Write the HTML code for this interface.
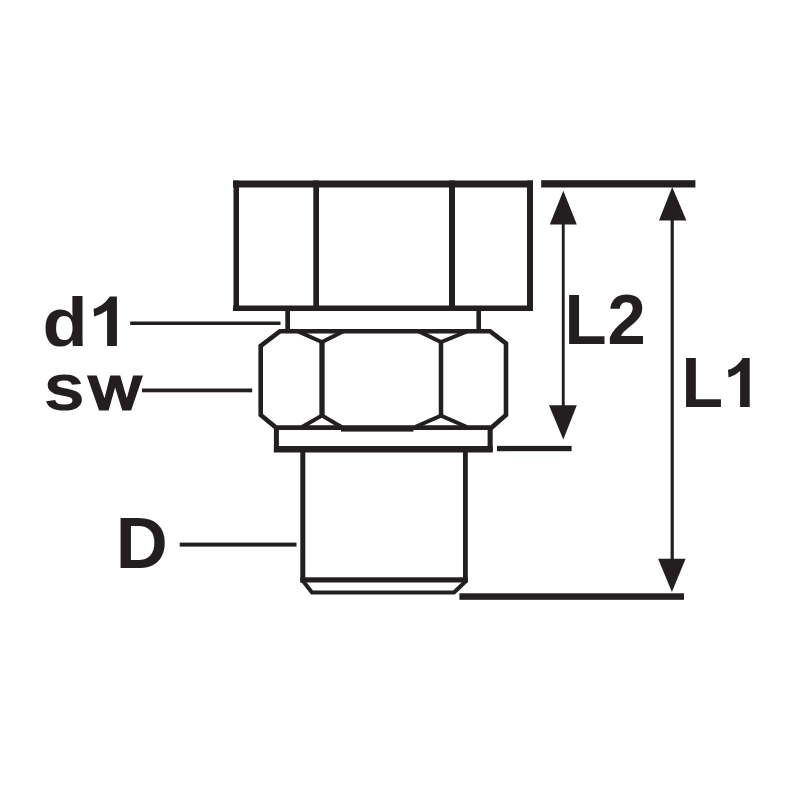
<!DOCTYPE html>
<html>
<head>
<meta charset="utf-8">
<style>
html,body{margin:0;padding:0;background:#fff;}
body{width:800px;height:800px;overflow:hidden;}
svg{display:block;}
text{font-family:"Liberation Sans", sans-serif;font-weight:bold;fill:#231f20;}
</style>
</head>
<body>
<svg width="800" height="800" viewBox="0 0 800 800">
<rect x="0" y="0" width="800" height="800" fill="#fff"/>
<g fill="#231f20">
  <!-- head -->
  <rect x="233" y="180.5" width="300" height="7"/>
  <rect x="233" y="305.5" width="300" height="5.5"/>
  <rect x="233.5" y="180.5" width="5.5" height="130.5"/>
  <rect x="527" y="180.5" width="6" height="130.5"/>
  <rect x="313.3" y="180.5" width="5.7" height="130.5"/>
  <rect x="449" y="180.5" width="6" height="130.5"/>
  <!-- neck -->
  <rect x="285.3" y="311" width="4.7" height="20"/>
  <rect x="476.4" y="311" width="4.6" height="20"/>
  <!-- washer -->
  <rect x="273.9" y="427" width="5" height="25"/>
  <rect x="487.6" y="427" width="5.1" height="25"/>
  <rect x="273.9" y="446" width="218.8" height="6.5"/>
  <!-- shank -->
  <rect x="300.3" y="452" width="5" height="130.5"/>
  <rect x="463" y="452" width="4.8" height="130.5"/>
  <rect x="300.3" y="577.3" width="167.5" height="5.2"/>
  <!-- leaders -->
  <rect x="130.2" y="321.5" width="150.3" height="3.5"/>
  <rect x="142" y="388.5" width="110.2" height="3.8"/>
  <rect x="179.7" y="542.6" width="116.8" height="4"/>
  <!-- dimension lines -->
  <rect x="541.2" y="180.2" width="154.2" height="7.3"/>
  <rect x="497" y="445.9" width="74.6" height="5.3"/>
  <rect x="459.4" y="593.3" width="224.6" height="6.5"/>
  <!-- arrows -->
  <polygon points="563.3,190.7 549.8,224.5 576.8,224.5"/>
  <polygon points="563.3,439.6 549,405.2 576.8,405.2"/>
  <polygon points="672.2,186.9 659,220.5 686.4,220.5"/>
  <polygon points="671.9,591.9 658.1,558.7 685.6,558.7"/>
  <rect x="561.8" y="222" width="2.9" height="185"/>
  <rect x="670.6" y="218" width="3.2" height="343"/>
</g>
<g fill="none" stroke="#231f20" stroke-linejoin="miter">
  <!-- nut outline -->
  <polygon stroke-width="4.6" points="280,331.2 490,331.2 506,343.5 506,415 491.5,427.6 276,427.6 260.7,415 260.7,346"/>
  <line stroke-width="5.3" x1="322" y1="341" x2="322" y2="416"/>
  <line stroke-width="4.5" x1="441" y1="341" x2="441" y2="416"/>
  <polyline stroke-width="4" points="298,331.5 322,342 343,331.5"/>
  <polyline stroke-width="4" points="419,331.5 441,342 467,331.5"/>
  <polyline stroke-width="4" points="302,427 322,415.5 341.5,427"/>
  <polyline stroke-width="4" points="415,427 441,415.6 467,427"/>
  <!-- chamfer bottom -->
  <polyline stroke-width="4" points="303,581 312,592.4 454,592.4 466,581"/>
</g>
<rect x="341" y="426" width="72.5" height="5.6" fill="#231f20"/>
<text transform="translate(42.47,345.72) scale(0.7401,0.6816)" font-size="100">d</text>
<text transform="translate(43.59,410.32) scale(0.7458,0.6758)" font-size="100">s</text>
<text transform="translate(115.67,567.50) scale(0.7210,0.7180)" font-size="100">D</text>
<text transform="translate(564.38,343.75) scale(0.6901,0.7086)" font-size="100">L</text>
<text transform="translate(607.59,343.75) scale(0.6881,0.7070)" font-size="100">2</text>
<text transform="translate(681.54,406.90) scale(0.6803,0.7122)" font-size="100">L</text>
<g fill="#231f20"><polygon points="86.9,375.4 96.7,375.4 104.5,398.3 110.2,375.4 120.2,375.4 126.8,398.3 133.1,375.4 143.0,375.4 131.1,410.6 122.3,410.6 115.1,387.6 108.6,410.6 99.1,410.6"/>
<path d="M107.1,345.9 L116.9,345.9 L116.9,296.4 L109.69999999999999,296.4 C106.6,301.9 99.6,307.3 93.6,308.8 L94.1,316.6 C98.6,315.1 104.6,312.5 107.1,310.0 Z"/>
<path d="M740.1,406.9 L749.7,406.9 L749.7,357.9 L742.7,357.9 C739.6,363.4 734.0,368.3 728.0,369.8 L728.5,377.6 C733.0,376.1 737.6,373.5 740.1,371.0 Z"/></g>
</svg>
</body>
</html>
